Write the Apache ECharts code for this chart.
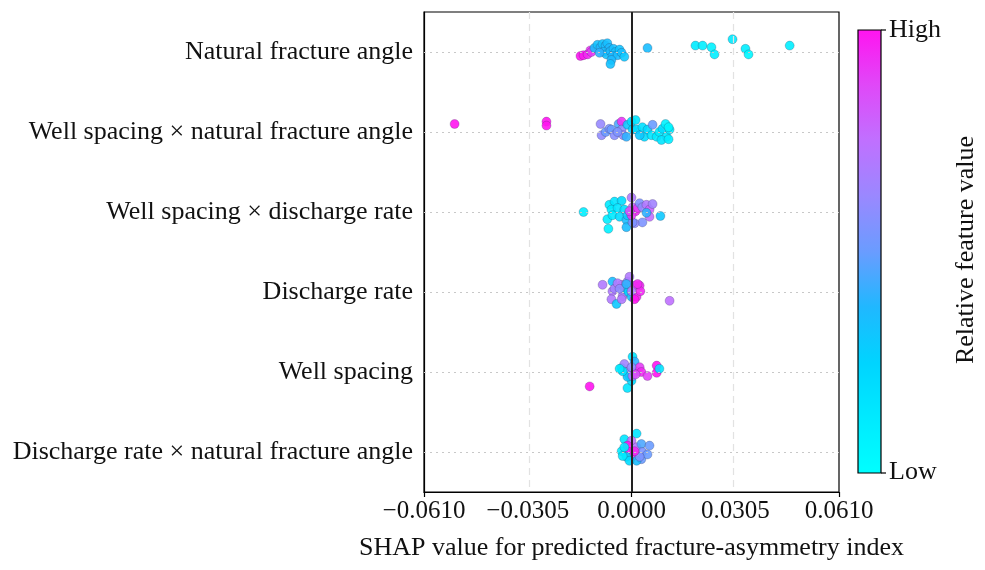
<!DOCTYPE html>
<html>
<head>
<meta charset="utf-8">
<script src="https://cdn.jsdelivr.net/npm/echarts@6/dist/echarts.min.js"></script>
<style>
html, body { margin: 0; padding: 0; background: #fff; }
#chart { width: 985px; height: 570px; }
</style>
</head>
<body>
<div id="chart"></div>
<script>
// feature names, top to bottom
var features = [
    'Natural fracture angle',
    'Well spacing \u00d7 natural fracture angle',
    'Well spacing \u00d7 discharge rate',
    'Discharge rate',
    'Well spacing',
    'Discharge rate \u00d7 natural fracture angle'
];
var xTicks = [-0.061, -0.0305, 0, 0.0305, 0.061];

// per feature: SHAP value, vertical spread (row units), relative feature value
var shapNat = [-0.0150, -0.0141, -0.0129, -0.0121, -0.0118, -0.0109, -0.0100, -0.0091, -0.0085, -0.0076, -0.0071, -0.0065, -0.0082, -0.0074, -0.0094, -0.0062, -0.0053, -0.0047, -0.0056, -0.0041, -0.0035, -0.0029, -0.0021, -0.0059, -0.0062, 0.0047, 0.0188, 0.0209, 0.0235, 0.0244, 0.0297, 0.0335, 0.0344, 0.0465];
var jitNat  = [0.05, 0.04, 0.03, -0.02, 0.0, -0.05, -0.09, -0.06, -0.10, -0.08, -0.11, -0.05, 0.0, 0.03, 0.01, -0.01, -0.04, 0.0, 0.05, 0.04, -0.03, 0.01, 0.06, 0.10, 0.15, -0.05, -0.08, -0.08, -0.06, 0.03, -0.16, -0.04, 0.03, -0.08];
var valNat  = [1.0, 0.98, 0.95, 0.92, 0.9, 0.35, 0.33, 0.38, 0.32, 0.36, 0.34, 0.37, 0.35, 0.33, 0.4, 0.36, 0.34, 0.33, 0.37, 0.35, 0.32, 0.34, 0.3, 0.36, 0.33, 0.35, 0.12, 0.1, 0.08, 0.1, 0.12, 0.1, 0.05, 0.1];

var shapWsNat = [-0.0520, -0.0250, -0.0250, -0.0091, -0.0088, -0.0076, -0.0065, -0.0059, -0.0050, -0.0038, -0.0029, -0.0029, -0.0024, -0.0015, -0.0012, 0.0000, 0.0003, 0.0012, 0.0015, 0.0032, 0.0038, 0.0047, 0.0059, 0.0062, 0.0074, 0.0082, 0.0091, 0.0100, 0.0103, 0.0088, 0.0112, 0.0109, 0.0109, 0.0024, -0.0041];
var jitWsNat  = [-0.10, -0.13, -0.08, -0.10, 0.04, 0.0, -0.04, -0.03, 0.04, -0.10, -0.13, -0.03, 0.04, 0.06, -0.09, -0.13, -0.03, -0.15, -0.03, -0.06, 0.06, -0.03, 0.04, -0.09, 0.06, 0.0, -0.04, -0.10, 0.06, 0.10, -0.03, -0.06, 0.09, 0.04, 0.0];
var valWsNat  = [1.0, 1.0, 1.0, 0.62, 0.6, 0.5, 0.55, 0.5, 0.58, 0.45, 0.92, 0.6, 0.62, 0.4, 0.3, 0.2, 0.25, 0.15, 0.2, 0.18, 0.2, 0.22, 0.15, 0.5, 0.12, 0.1, 0.2, 0.08, 0.12, 0.15, 0.1, 0.05, 0.1, 0.3, 0.55];

var shapWsDr = [-0.0141, 0.0085, -0.0068, -0.0071, -0.0065, -0.0050, -0.0029, -0.0059, -0.0041, -0.0021, -0.0056, -0.0035, -0.0015, -0.0012, 0.0000, 0.0003, 0.0012, 0.0018, 0.0024, 0.0032, 0.0044, 0.0053, 0.0053, 0.0062, 0.0032, 0.0009, -0.0015, 0.0003, 0.0000, 0.0044, -0.0006];
var jitWsDr  = [0.0, 0.05, 0.21, 0.09, -0.09, -0.13, -0.14, -0.03, -0.05, -0.03, 0.04, 0.06, 0.10, 0.04, -0.18, -0.06, -0.01, -0.05, -0.11, -0.06, -0.09, -0.03, 0.06, -0.10, 0.13, 0.14, 0.19, 0.13, 0.04, 0.01, -0.01];
var valWsDr  = [0.1, 0.3, 0.08, 0.1, 0.12, 0.15, 0.2, 0.1, 0.15, 0.18, 0.12, 0.2, 0.35, 0.3, 0.7, 0.75, 0.95, 0.9, 0.55, 0.6, 0.7, 0.8, 0.75, 0.65, 0.55, 0.6, 0.35, 0.55, 0.9, 0.4, 0.85];

var shapDr = [-0.0085, -0.0056, -0.0056, -0.0059, -0.0044, -0.0029, -0.0026, -0.0021, -0.0012, -0.0006, -0.0009, 0.0000, 0.0009, 0.0015, 0.0024, 0.0026, 0.0112, -0.0050, -0.0041, -0.0035, -0.0015, 0.0018, 0.0000, -0.0029, 0.0009];
var jitDr  = [-0.09, -0.13, -0.01, 0.09, 0.15, -0.09, 0.05, -0.04, -0.13, -0.19, 0.0, 0.06, -0.08, 0.06, -0.08, -0.01, 0.11, -0.04, -0.11, -0.04, -0.10, -0.10, -0.01, 0.09, 0.09];
var valDr  = [0.7, 0.35, 0.7, 0.7, 0.3, 0.7, 0.7, 0.3, 0.65, 0.7, 0.25, 0.35, 0.85, 0.95, 0.95, 0.95, 0.75, 0.65, 0.7, 0.6, 0.4, 0.95, 0.7, 0.7, 1.0];

var shapWs = [-0.0123, -0.0012, 0.0000, -0.0006, -0.0029, -0.0021, 0.0003, 0.0009, 0.0015, 0.0024, 0.0029, 0.0047, 0.0074, 0.0074, 0.0082, -0.0015, -0.0012, 0.0000, 0.0003, -0.0026, -0.0035, 0.0012];
var jitWs  = [0.18, 0.20, 0.11, 0.05, -0.05, -0.10, -0.19, -0.13, -0.01, -0.06, 0.0, 0.05, -0.08, 0.01, -0.04, 0.0, 0.06, -0.06, 0.05, -0.01, -0.04, 0.03];
var valWs  = [1.0, 0.15, 0.2, 0.35, 0.15, 0.65, 0.15, 0.4, 0.95, 0.9, 0.95, 0.9, 1.0, 1.0, 0.15, 0.6, 0.3, 0.6, 0.7, 0.15, 0.12, 0.85];

var shapDrNat = [0.0015, -0.0021, 0.0000, -0.0029, -0.0012, -0.0006, 0.0003, -0.0015, 0.0015, 0.0029, 0.0032, 0.0029, 0.0047, 0.0053, 0.0015, -0.0006, 0.0024, -0.0026, -0.0021, 0.0009];
var jitDrNat  = [-0.23, -0.16, -0.14, -0.01, -0.08, 0.0, 0.05, 0.06, -0.06, -0.10, 0.0, 0.09, 0.03, -0.08, 0.11, 0.11, 0.06, 0.05, -0.06, -0.01];
var valDrNat  = [0.15, 0.15, 0.75, 0.1, 1.0, 1.0, 0.95, 0.2, 0.7, 0.45, 0.55, 0.5, 0.5, 0.5, 0.35, 0.2, 0.55, 0.12, 0.12, 0.95];

var shapRows = [shapNat, shapWsNat, shapWsDr, shapDr, shapWs, shapDrNat];
var jitRows  = [jitNat, jitWsNat, jitWsDr, jitDr, jitWs, jitDrNat];
var valRows  = [valNat, valWsNat, valWsDr, valDr, valWs, valDrNat];

// low -> high
var palette = ['#00FFFF', '#00EAFF', '#00D4FF', '#20B8FF', '#6A9CFF', '#9A88FF', '#C070FF', '#E048F8', '#FF14F0'];

var points = [];
for (var r = 0; r < shapRows.length; r++) {
    for (var i = 0; i < shapRows[r].length; i++) {
        points.push([shapRows[r][i], r + jitRows[r][i], valRows[r][i]]);
    }
}

var rowLines = features.map(function(f, i) { return { yAxis: i }; });
// dashed vertical guides at the inner ticks (0 gets the solid line)
var colLines = [{ xAxis: xTicks[1] }, { xAxis: xTicks[3] }];

function fmtTick(v) {
    if (Math.abs(v) < 1e-9) return '0.0000';
    return (v < 0 ? '\u2212' : '') + Math.abs(v).toFixed(4);
}

var font = '"Liberation Serif", "Times New Roman", serif';
var chart = echarts.init(document.getElementById('chart'));

var stops = palette.map(function(c, i) {
    return { offset: i / (palette.length - 1), color: c };
});

chart.setOption({
    animation: false,
    grid: {
        left: 424, right: 146, top: 12, bottom: 78,
        show: true, borderColor: '#000', borderWidth: 1.2, z: 4
    },
    xAxis: {
        type: 'value',
        min: xTicks[0], max: xTicks[xTicks.length - 1], interval: 0.0305,
        name: 'SHAP value for predicted fracture-asymmetry index',
        nameLocation: 'middle', nameGap: 43,
        nameTextStyle: { fontFamily: font, fontSize: 26, color: '#111' },
        axisLine: { onZero: false, lineStyle: { color: '#000', width: 1.2 } },
        axisTick: { show: true, length: 5, lineStyle: { color: '#000', width: 1.2 }, customValues: [xTicks[0], xTicks[2], xTicks[4]] },
        axisLabel: { fontFamily: font, fontSize: 25, color: '#111', margin: 7, formatter: fmtTick },
        splitLine: { show: false }
    },
    yAxis: [{
        type: 'category',
        data: features,
        inverse: true,
        axisLine: { show: true, onZero: false, lineStyle: { color: '#000', width: 1.2 } },
        axisTick: { show: false },
        axisLabel: { fontFamily: font, fontSize: 26, color: '#111', margin: 11 },
        splitLine: { show: false }
    }, {
        type: 'value',
        min: -0.5, max: 5.5,
        inverse: true,
        show: false,
        axisLine: { onZero: false },
        splitLine: { show: false }
    }],
    visualMap: {
        show: false,
        type: 'continuous',
        dimension: 2,
        min: 0, max: 1,
        seriesIndex: 1,
        inRange: { color: palette }
    },
    series: [{
        type: 'scatter',
        yAxisIndex: 1,
        data: [],
        z: 1,
        silent: true,
        markLine: {
            silent: true, symbol: 'none', label: { show: false },
            lineStyle: { color: '#c8c8c8', type: [2, 4], width: 1.2 },
            data: rowLines.concat(colLines.map(function(d) {
                return { xAxis: d.xAxis, lineStyle: { color: '#e2e2e2', type: [7, 5], width: 1.2 } };
            }))
        }
    }, {
        type: 'scatter',
        yAxisIndex: 1,
        data: points,
        symbolSize: 9,
        z: 3,
        itemStyle: { opacity: 0.9, borderColor: 'rgba(40,40,80,0.45)', borderWidth: 0.6 }
    }, {
        type: 'scatter',
        yAxisIndex: 1,
        data: [],
        z: 5,
        silent: true,
        markLine: {
            silent: true, symbol: 'none', label: { show: false },
            lineStyle: { color: '#222', type: 'solid', width: 2 },
            data: [{ xAxis: 0 }]
        }
    }],
    graphic: [{
        type: 'rect',
        shape: { x: 858, y: 30, width: 23, height: 443 },
        style: {
            fill: { type: 'linear', x: 0, y: 1, x2: 0, y2: 0, colorStops: stops },
            stroke: '#000', lineWidth: 1.2
        }
    }, {
        type: 'line', shape: { x1: 881, y1: 30, x2: 886, y2: 30 },
        style: { stroke: '#000', lineWidth: 1.2 }
    }, {
        type: 'line', shape: { x1: 881, y1: 473, x2: 886, y2: 473 },
        style: { stroke: '#000', lineWidth: 1.2 }
    }, {
        type: 'text', left: 889, top: 17,
        style: { text: 'High', font: '26px ' + font, fill: '#111' }
    }, {
        type: 'text', left: 889, top: 459,
        style: { text: 'Low', font: '26px ' + font, fill: '#111' }
    }, {
        type: 'text', x: 966, y: 250, rotation: Math.PI / 2,
        style: { text: 'Relative feature value', font: '26px ' + font, fill: '#111', align: 'center', verticalAlign: 'middle' }
    }]
});
</script>
</body>
</html>
